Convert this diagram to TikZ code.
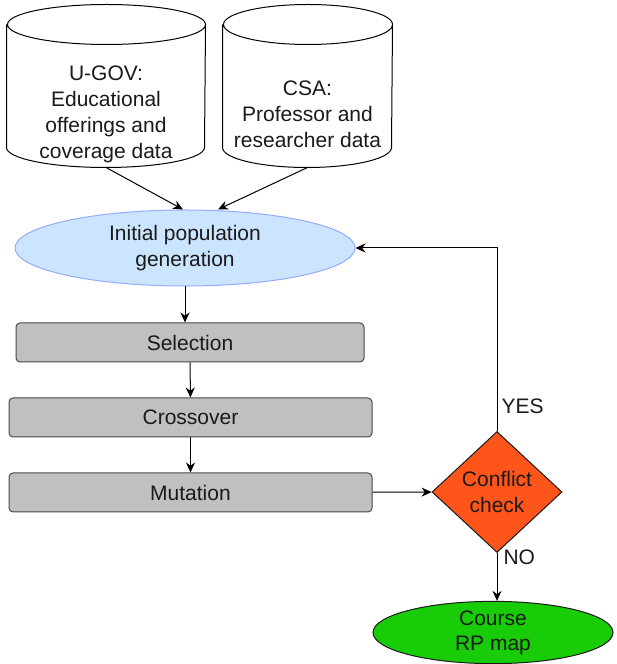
\documentclass[tikz,border=0pt]{standalone}
\usepackage{fontspec}
\setmainfont{Liberation Sans}
\usetikzlibrary{arrows.meta,positioning,shapes.geometric}
\definecolor{popblue}{RGB}{204,229,255}
\definecolor{popedge}{RGB}{150,170,255}
\definecolor{stepgray}{RGB}{192,192,192}
\definecolor{checkred}{RGB}{255,84,26}
\definecolor{mapgreen}{RGB}{24,204,8}
\definecolor{ink}{RGB}{26,26,26}

\begin{document}
\begin{tikzpicture}[>={Stealth[length=10pt,width=9pt]},x=1pt,y=1pt,line width=1pt,
  font=\fontsize{21}{26}\selectfont,text=ink]
  \tikzstyle{db}=[minimum height=162pt,inner sep=0pt]
  \tikzstyle{op}=[draw=ink!80,fill=stepgray,rounded corners=4pt,minimum height=39pt,inner sep=0pt]
  \useasboundingbox (0,0) rectangle (616,664);
  % data sources
  \node[db,minimum width=198pt] (ugov) at (106,578) {};
  \node[db,minimum width=169pt] (csa) at (307.5,578) {};
  \draw[fill=white] ([yshift=-20pt]ugov.north west) -- ([yshift=20pt]ugov.south west)
    arc[start angle=180,end angle=360,x radius=99,y radius=20] -- ([yshift=-20pt]ugov.north east)
    arc[start angle=0,end angle=360,x radius=99,y radius=20];
  \draw[fill=white] ([yshift=-20pt]csa.north west) -- ([yshift=20pt]csa.south west)
    arc[start angle=180,end angle=360,x radius=84.5,y radius=20] -- ([yshift=-20pt]csa.north east)
    arc[start angle=0,end angle=360,x radius=84.5,y radius=20];
  \node[align=center] (ugovtxt) at (106,550) {U-GOV:\\Educational\\offerings and\\coverage data};
  \node[align=center] (csatxt) at (307.5,550) {CSA:\\Professor and\\researcher data};
  % genetic loop
  \node[ellipse,draw=popedge,fill=popblue,minimum width=340pt,minimum height=76pt,align=center,inner sep=0pt] (init) at (185,416) {Initial population\\generation};
  \node[op,minimum width=348pt] (sel) at (190,321.5) {Selection};
  \node[op,minimum width=363pt] (cross) at (190.5,246.5) {Crossover};
  \node[op,minimum width=363pt] (mut) at (190.5,171.5) {Mutation};
  \node[diamond,draw=ink,fill=checkred,minimum width=130pt,minimum height=121pt,align=center,inner sep=0pt] (chk) at (497,172) {Conflict\\check};
  \node[ellipse,draw=ink,fill=mapgreen,minimum width=240pt,minimum height=59pt,align=center,inner sep=0pt,font=\fontsize{21}{25}\selectfont] (map) at (493,31.5) {Course\\RP map};
  \draw[->] (ugov.south) -- ([xshift=-2pt]init.north);
  \draw[->] (csa.south) -- ([xshift=33pt]init.north);
  \draw[->] (init.south) -- (init.south |- sel.north);
  \draw[->] (sel) -- (cross);
  \draw[->] (cross) -- (mut);
  \draw[->] (mut) -- (chk);
  \draw[->] (chk.north) |- (init.east) node[pos=0.067,right,inner sep=4pt] (yes) {YES};
  \draw[->] (chk.south) -- (chk.south |- map.north) node[pos=0.08,right,inner sep=6pt] (no) {NO};
\end{tikzpicture}
\end{document}
